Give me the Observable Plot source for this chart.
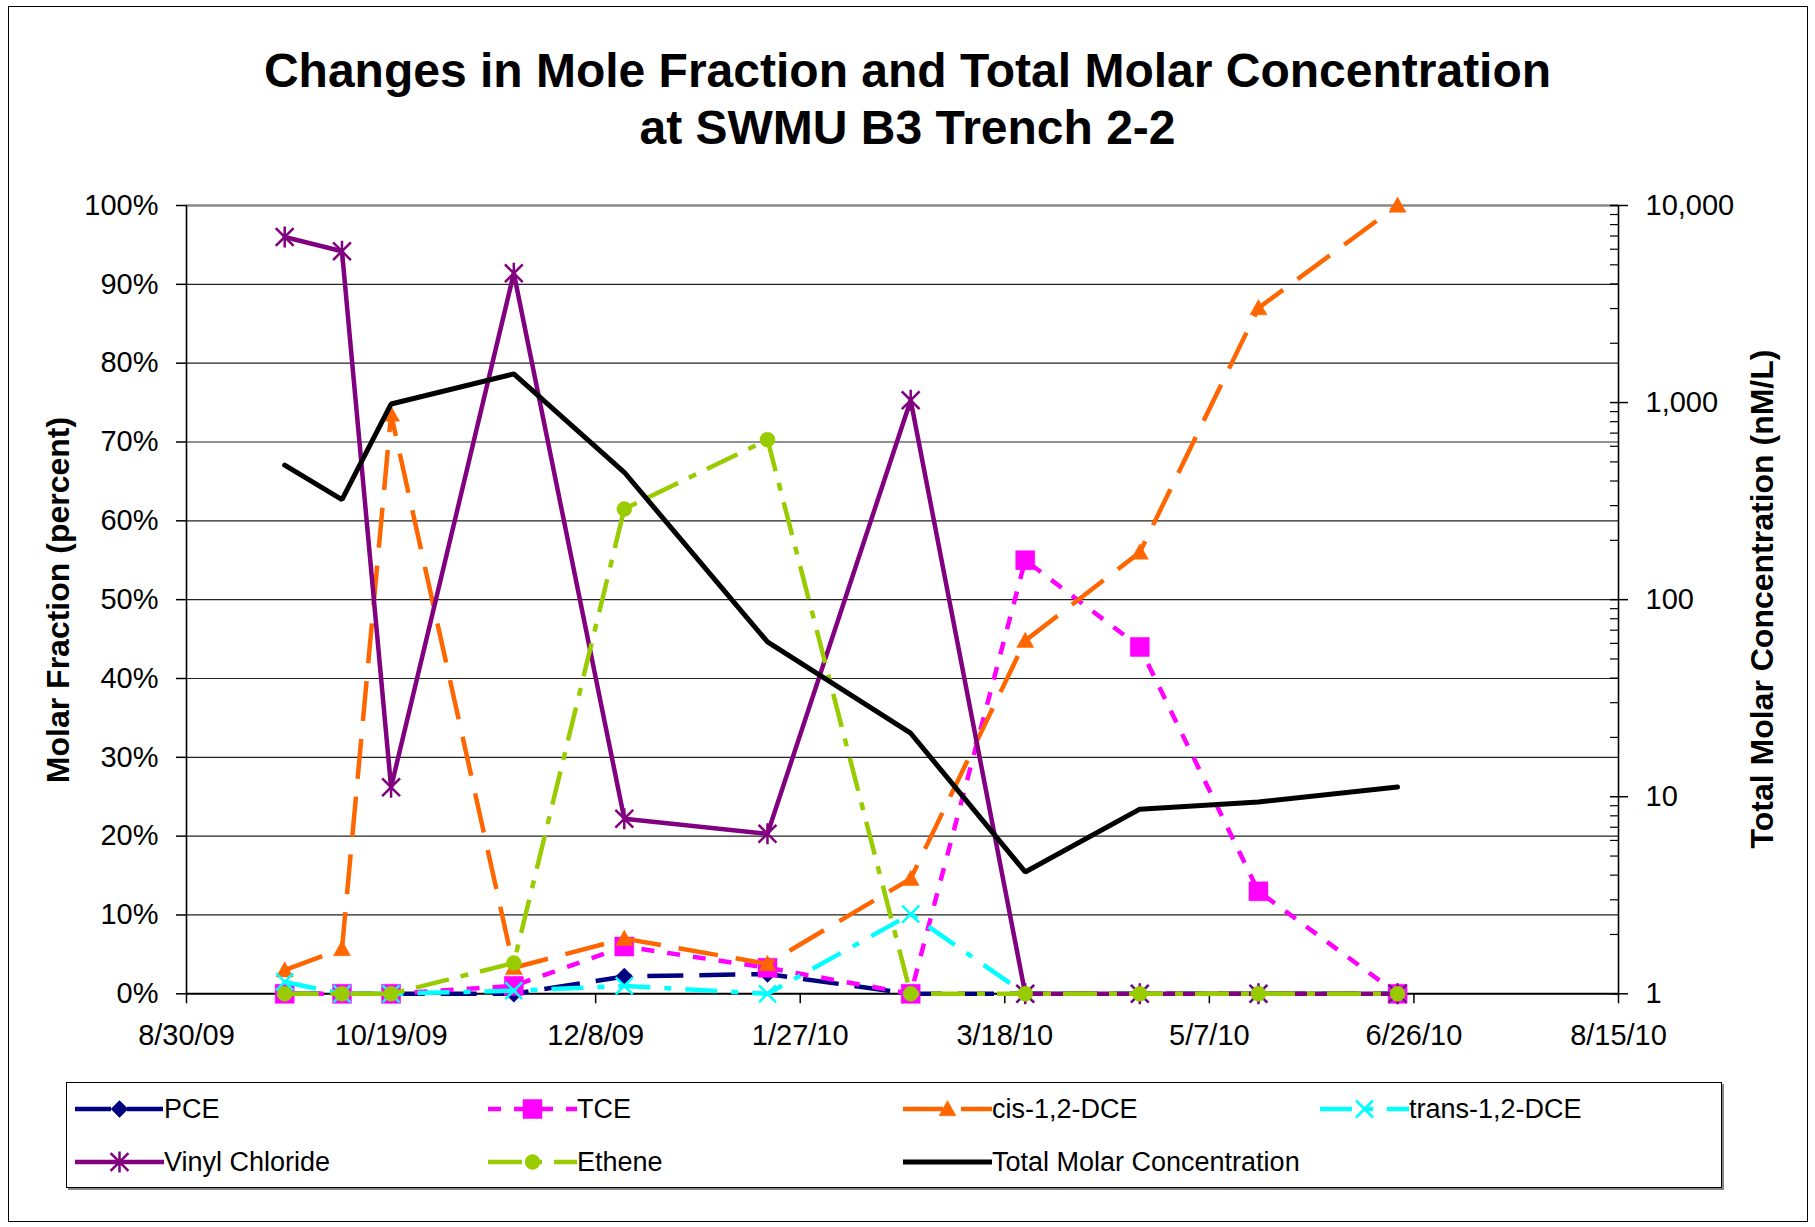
<!DOCTYPE html>
<html><head><meta charset="utf-8">
<script src="https://cdn.jsdelivr.net/npm/d3@7"></script>
<script src="https://cdn.jsdelivr.net/npm/@observablehq/plot@0.6"></script>
<style>
body{margin:0;background:#fff;font-family:Arial,"Liberation Sans",sans-serif;}
#chart{position:relative;width:1815px;height:1227px;overflow:hidden;background:#fff;}
#frame{position:absolute;left:8px;top:6px;width:1800px;height:1216px;border:1.5px solid #000;box-sizing:border-box;}
.title{position:absolute;left:0;width:1815px;text-align:center;font-weight:bold;font-size:48px;line-height:48px;white-space:nowrap;}
.ytitle{position:absolute;font-weight:bold;font-size:32px;line-height:32px;white-space:nowrap;transform:translate(-50%,-50%) rotate(-90deg);}
.plot{position:absolute;left:0;top:150px;}
#legend{position:absolute;left:66px;top:1082px;width:1656px;height:106px;border:1px solid #000;box-shadow:2px 2px 0 #888;box-sizing:border-box;}
.item{position:absolute;display:flex;align-items:center;font-size:27px;line-height:30px;height:30px;white-space:nowrap;}
.item svg{display:block;margin-right:0px;}
</style></head>
<body>
<div id="chart">
  <div id="frame"></div>
  <div class="title" style="top:47px">Changes in Mole Fraction and Total Molar Concentration</div>
  <div class="title" style="top:104px">at SWMU B3 Trench 2-2</div>
  <div class="ytitle" style="left:58px;top:600px">Molar Fraction (percent)</div>
  <div class="ytitle" style="left:1762px;top:599px">Total Molar Concentration (nM/L)</div>
  <div id="p1" class="plot"></div>
  <div id="p2" class="plot"></div>
  <div id="legend"></div>
</div>
<script>
// ---- data ----
const dates = ["2009-09-23","2009-10-07","2009-10-19","2009-11-18","2009-12-15","2010-01-19","2010-02-23","2010-03-23","2010-04-20","2010-05-19","2010-06-22"];
const pce = [0,0,0,0,2.2,2.5,0,0,0,0,0];
const tce = [0,0,0,1.0,6.0,3.3,0,55,44,13,0];
const cisDCE = [3.0,5.7,73.5,3.3,7.0,3.8,14.6,44.8,56,87,100];
const transDCE = [1.5,0,0,0.4,1.0,0,10.1,0,0,0,0];
const vinylChloride = [96,94.2,26.2,91.4,22.2,20.3,75.3,0,0,0,0];
const ethene = [0,0,0,3.9,61.5,70.3,0,0,0,0,0];
const totalMolar = [481,322,983,1398,443,61,21,4.15,8.65,9.4,11.2];
const seriesNames = ["PCE","TCE","cis-1,2-DCE","trans-1,2-DCE","Vinyl Chloride","Ethene"];
const totalName = "Total Molar Concentration";
const xTickLabels = ["2009-08-30","2009-10-19","2009-12-08","2010-01-27","2010-03-18","2010-05-07","2010-06-26","2010-08-15"];
const leftTicks = [0,10,20,30,40,50,60,70,80,90,100];
const rightTicks = [1,10,100,1000,10000];

// ---- symbols ----
const sym = {
  diamond:{draw(c,s){const r=Math.sqrt(s/Math.PI);c.moveTo(0,-r);c.lineTo(r,0);c.lineTo(0,r);c.lineTo(-r,0);c.closePath();}},
  square:{draw(c,s){const r=Math.sqrt(s/Math.PI);c.rect(-r,-r,2*r,2*r);}},
  triangle:{draw(c,s){const r=Math.sqrt(s/Math.PI);c.moveTo(0,-r);c.lineTo(r,r*0.8);c.lineTo(-r,r*0.8);c.closePath();}},
  circle:{draw(c,s){const r=Math.sqrt(s/Math.PI);c.moveTo(r,0);c.arc(0,0,r,0,2*Math.PI);}},
  cross:{draw(c,s){const r=Math.sqrt(s/Math.PI);c.moveTo(-r,-r);c.lineTo(r,r);c.moveTo(r,-r);c.lineTo(-r,r);}},
  star:{draw(c,s){const R=Math.sqrt(s/Math.PI),r=R*0.85;c.moveTo(-r,-r);c.lineTo(r,r);c.moveTo(r,-r);c.lineTo(-r,r);c.moveTo(0,-R);c.lineTo(0,R);}}
};
const styles = [
  {values:pce, color:"#000080", dash:"36,16", symbol:sym.diamond, r:8.5, filled:true},
  {values:tce, color:"#FF00FF", dash:"13,13", symbol:sym.square, r:9.5, filled:true},
  {values:cisDCE, color:"#FF6600", dash:"40,18", symbol:sym.triangle, r:8.5, filled:true},
  {values:transDCE, color:"#00FFFF", dash:"32,14,7,14", symbol:sym.cross, r:8.5, filled:false},
  {values:vinylChloride, color:"#800080", dash:null, symbol:sym.star, r:10.5, filled:false},
  {values:ethene, color:"#99CC00", dash:"34,12,8,12", symbol:sym.circle, r:7.5, filled:true}
];

const parse = d => new Date(d + "T00:00:00Z");
const xDomain = [parse(xTickLabels[0]), parse(xTickLabels[xTickLabels.length-1])];
const fmtDate = d => `${d.getUTCMonth()+1}/${d.getUTCDate()}/${String(d.getUTCFullYear()).slice(2)}`;

const W = 1815, H = 910, mL = 186, mR = 197, mT = 55, mB = 66.7;
const font = {background:"transparent", fontFamily:"Arial, 'Liberation Sans', sans-serif", fontSize:"29px", color:"#000", overflow:"visible"};

const seriesMarks = [];
styles.forEach((st, i) => {
  const rows = dates.map((d, j) => ({date: parse(d), value: st.values[j], series: seriesNames[i]}));
  seriesMarks.push(Plot.line(rows, {x:"date", y:"value", stroke:st.color, strokeWidth:4.5,
    strokeDasharray: st.dash || undefined, strokeLinecap: st.dash ? "butt" : "round", strokeLinejoin:"round"}));
  seriesMarks.push(Plot.dot(rows, {x:"date", y:"value", symbol:st.symbol, r:st.r,
    fill: st.filled ? st.color : "none", stroke: st.color, strokeWidth: st.filled ? 0.5 : 2.5}));
});

const p1 = Plot.plot({
  width:W, height:H, marginLeft:mL, marginRight:mR, marginTop:mT, marginBottom:mB,
  style:font,
  x:{type:"utc", domain:xDomain},
  y:{domain:[0,100]},
  marks:[
    Plot.ruleY(leftTicks.filter(v => v > 0 && v < 100), {stroke:"#222", strokeWidth:1.2}),
    Plot.ruleY([100], {stroke:"#888", strokeWidth:2.5}),
    Plot.ruleX(xDomain, {stroke:"#000", strokeWidth:1.6}),
    Plot.ruleY([0], {stroke:"#000", strokeWidth:2}),
    Plot.axisY({ticks:leftTicks, tickFormat:d => d + "%", tickSize:10, tickPadding:18, label:null, strokeWidth:1.5}),
    Plot.axisX({ticks:xTickLabels.map(parse), tickFormat:fmtDate, tickSize:10, tickPadding:21, label:null, strokeWidth:1.5}),
    ...seriesMarks
  ]
});
document.getElementById("p1").appendChild(p1);

const minorTicks = [];
rightTicks.slice(0, -1).forEach(t => { for (let k = 2; k <= 9; k++) minorTicks.push(t * k); });
const totalRows = dates.map((d, j) => ({date: parse(d), value: totalMolar[j]}));

const p2 = Plot.plot({
  width:W, height:H, marginLeft:mL, marginRight:mR, marginTop:mT, marginBottom:mB,
  style:font,
  x:{type:"utc", domain:xDomain, axis:null},
  y:{type:"log", domain:[1,10000]},
  marks:[
    Plot.line(totalRows, {x:"date", y:"value", stroke:"#000", strokeWidth:5, strokeLinejoin:"miter", strokeLinecap:"round"}),
    Plot.axisY({anchor:"right", ticks:rightTicks, tickFormat:d3.format(","), tickSize:9, tickPadding:18, label:null, strokeWidth:1.5}),
    Plot.axisY({anchor:"right", ticks:rightTicks, fill:"none", tickSize:9, dx:-9, label:null, strokeWidth:1.5}),
    Plot.axisY({anchor:"right", ticks:minorTicks, fill:"none", tickSize:9, dx:-9, label:null, strokeWidth:1.2})
  ]
});
document.getElementById("p2").appendChild(p2);

// ---- legend ----
const legend = document.getElementById("legend");
const colX = [75, 488, 903, 1320];
const rowY = [1108.5, 1161.8];
const entries = styles.map((st, i) => ({name: seriesNames[i], ...st}));
entries.push({name: totalName, color:"#000", dash:null, symbol:null, r:0, filled:true, width:5});
entries.forEach((e, i) => {
  const col = i % 4, row = Math.floor(i / 4);
  const div = document.createElement("div");
  div.className = "item";
  div.style.left = (colX[col] - 67) + "px";
  div.style.top = (rowY[row] - 1083 - 15) + "px";
  const ns = "http://www.w3.org/2000/svg";
  const svg = document.createElementNS(ns, "svg");
  svg.setAttribute("width", 89); svg.setAttribute("height", 30);
  const line = document.createElementNS(ns, "line");
  line.setAttribute("x1", 0); line.setAttribute("x2", 89); line.setAttribute("y1", 15); line.setAttribute("y2", 15);
  line.setAttribute("stroke", e.color); line.setAttribute("stroke-width", e.width || 4.5);
  if (e.dash) line.setAttribute("stroke-dasharray", e.dash);
  svg.appendChild(line);
  if (e.symbol) {
    const p = document.createElementNS(ns, "path");
    p.setAttribute("d", d3.symbol(e.symbol, e.r * e.r * Math.PI)());
    p.setAttribute("transform", "translate(44.5,15)");
    p.setAttribute("fill", e.filled ? e.color : "none");
    p.setAttribute("stroke", e.color);
    p.setAttribute("stroke-width", e.filled ? 0.5 : 2.5);
    svg.appendChild(p);
  }
  div.appendChild(svg);
  const span = document.createElement("span");
  span.textContent = e.name;
  div.appendChild(span);
  legend.appendChild(div);
});
</script>
</body></html>
